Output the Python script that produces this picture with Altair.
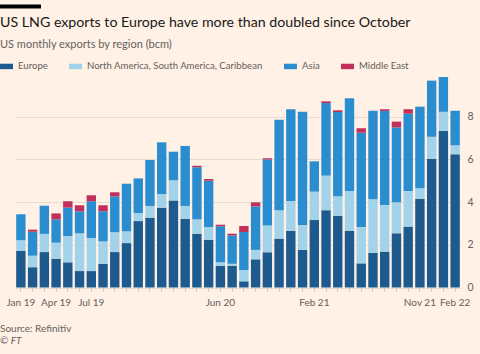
import altair as alt
import pandas as pd

months = ["Jan 19","Feb 19","Mar 19","Apr 19","May 19","Jun 19","Jul 19","Aug 19","Sep 19","Oct 19","Nov 19","Dec 19",
          "Jan 20","Feb 20","Mar 20","Apr 20","May 20","Jun 20","Jul 20","Aug 20","Sep 20","Oct 20","Nov 20","Dec 20",
          "Jan 21","Feb 21","Mar 21","Apr 21","May 21","Jun 21","Jul 21","Aug 21","Sep 21","Oct 21","Nov 21","Dec 21",
          "Jan 22","Feb 22"]
shown_labels = ["Jan 19", "Apr 19", "Jul 19", "Jun 20", "Feb 21", "Nov 21", "Feb 22"]

regions = ["Europe", "North America, South America, Caribbean", "Asia", "Middle East"]
colors = ["#1d5a8e", "#a2d3ea", "#2a8dcf", "#c0305a"]

europe = [1.71,0.95,1.66,1.35,1.18,0.77,0.77,1.10,1.66,2.08,3.11,3.27,3.74,4.08,3.22,2.52,2.24,1.02,1.02,0.29,
          1.32,1.65,2.29,2.66,1.76,3.16,3.62,3.36,2.66,1.13,1.62,1.68,2.54,2.85,4.16,6.02,7.34,6.24]
americas = [0.50,0.54,0.85,0.75,1.23,1.77,1.55,1.06,0.93,0.55,0.38,0.55,0.64,0.94,0.60,0.67,0.59,0.16,0.09,0.53,
            0.44,1.25,1.33,1.39,1.17,1.33,1.62,0.91,1.86,1.70,2.51,2.18,1.45,1.67,0.49,1.04,0.89,0.42]
asia = [1.22,1.12,1.32,1.09,1.33,1.03,1.72,1.41,1.68,2.23,1.62,2.15,2.42,1.34,2.81,2.44,2.17,1.69,1.33,1.78,
        2.04,3.09,4.24,4.30,5.30,1.42,3.40,3.95,4.34,4.42,4.15,4.41,3.51,3.62,3.82,2.63,1.63,1.62]
middle_east = [0,0.10,0,0.28,0.30,0.28,0.28,0.28,0.19,0,0,0,0,0,0,0.07,0.08,0.07,0.08,0.28,
               0.19,0.06,0,0,0,0,0.08,0.08,0,0.21,0,0.08,0.27,0.21,0,0,0,0]

series = [europe, americas, asia, middle_east]
rows = []
for ri, (name, vals) in enumerate(zip(regions, series)):
    for m, v in zip(months, vals):
        rows.append({"month": m, "region": name, "value": v, "order": ri})
df = pd.DataFrame(rows)

FONT = "Lato"
GREY = "#66605c"
BG = "#fff1e5"

label_list = "[" + ",".join("'" + s + "'" for s in shown_labels) + "]"

bars = alt.Chart(df).mark_bar().encode(
    x=alt.X("month:N", sort=months, title=None,
            scale=alt.Scale(paddingInner=0.2, paddingOuter=0.1),
            axis=alt.Axis(labelAngle=0, domain=False, ticks=True, tickSize=4, tickColor="#d8ccc1",
                          labelColor=GREY, labelFontSize=10, labelFont=FONT, labelPadding=6,
                          labelExpr=f"indexof({label_list}, datum.label) >= 0 ? datum.label : ''",
                          grid=False)),
    y=alt.Y("value:Q", stack="zero", title=None,
            scale=alt.Scale(domain=[0, 10], nice=False),
            axis=alt.Axis(orient="right", values=[0, 2, 4, 6, 8], domain=False, ticks=False,
                          grid=True, gridColor="#e8dbcf", labelColor=GREY, labelFontSize=10.5,
                          labelFont=FONT, labelPadding=6)),
    color=alt.Color("region:N", sort=regions,
                    scale=alt.Scale(domain=regions, range=colors),
                    legend=alt.Legend(title=None, orient="none", legendX=-15, legendY=-14.5,
                                      direction="horizontal", symbolType="M-1,-0.42H1V0.42H-1Z",
                                      symbolSize=169, symbolStrokeWidth=0, labelFontSize=9.6,
                                      labelFont=FONT, labelColor=GREY, labelOffset=5,
                                      labelLimit=400, columnPadding=21, padding=0)),
    order=alt.Order("order:Q"),
)

def text_layer(txt, x, y, size, color, weight="normal", style="normal"):
    return alt.Chart(pd.DataFrame({"t": [txt]})).mark_text(
        align="left", baseline="middle", font=FONT, fontSize=size, color=color,
        fontWeight=weight, fontStyle=style
    ).encode(text="t:N", x=alt.value(x), y=alt.value(y))

title = text_layer("US LNG exports to Europe have more than doubled since October", -15, -51, 14.2, "#1a1817")
subtitle = text_layer("US monthly exports by region (bcm)", -15, -29, 11, GREY)
source = text_layer("Source: Refinitiv", -15, 255, 10, GREY)
ft = text_layer("© FT", -15, 267, 10, GREY, style="italic")

topbar = alt.Chart(pd.DataFrame({"a": [0]})).mark_rule(color="#000000", strokeWidth=4).encode(
    x=alt.value(-15), x2=alt.value(26), y=alt.value(-67.5)
)

chart = alt.layer(bars, title, subtitle, source, ft, topbar).properties(
    width=446, height=213.5,
    autosize=alt.AutoSizeParams(type="none"),
    padding={"left": 15, "top": 74, "right": 19, "bottom": 66},
    background=BG,
).configure_view(stroke=None)

chart.save("out.html", embed_options={"renderer": "svg", "actions": False})
